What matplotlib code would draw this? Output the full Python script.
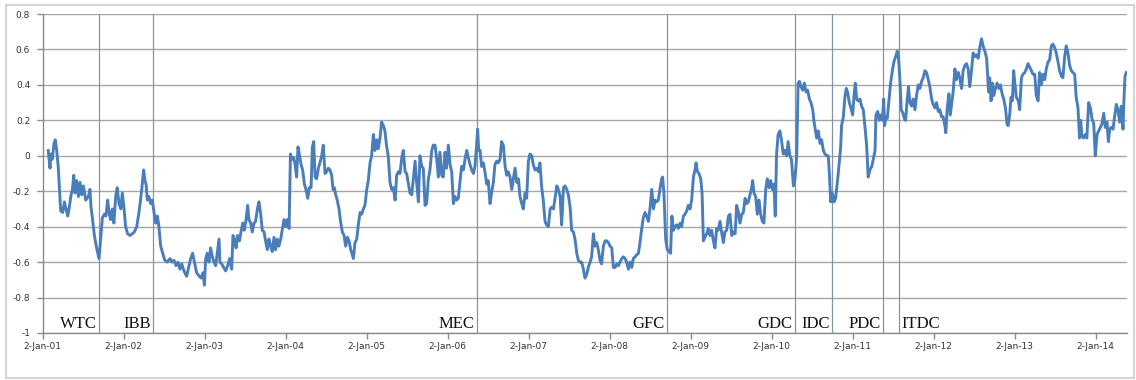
import numpy as np
import pandas as pd
import matplotlib
matplotlib.use("Agg")
import matplotlib.pyplot as plt
from matplotlib.patches import Rectangle

# rolling correlation, sampled as (days since 2-Jan-2001, value)
days = [
    25, 33, 37, 43, 51, 57, 63, 70, 75, 81, 90, 98, 105, 113, 120, 128, 134, 140, 146, 153,
    161, 168, 176, 183, 194, 206, 213, 218, 225, 233, 243, 254, 261, 269, 278, 285, 293, 299, 306, 314,
    321, 329, 336, 344, 352, 359, 367, 374, 383, 394, 404, 413, 424, 434, 442, 449, 455, 461, 466, 472,
    479, 487, 494, 502, 509, 517, 524, 532, 541, 551, 562, 574, 583, 592, 601, 610, 619, 627, 637, 649,
    658, 667, 676, 684, 694, 706, 714, 723, 729, 735, 742, 750, 757, 765, 772, 780, 787, 795, 799, 807,
    816, 825, 834, 843, 852, 858, 864, 872, 879, 887, 894, 902, 909, 917, 924, 930, 938, 945, 953, 960,
    968, 975, 983, 990, 998, 1005, 1013, 1020, 1028, 1035, 1043, 1050, 1058, 1065, 1073, 1080, 1088, 1096, 1103, 1111,
    1117, 1124, 1132, 1138, 1145, 1151, 1157, 1165, 1172, 1180, 1187, 1195, 1202, 1210, 1216, 1222, 1228, 1235, 1243, 1250,
    1258, 1265, 1273, 1280, 1288, 1295, 1303, 1309, 1315, 1321, 1328, 1336, 1344, 1351, 1359, 1366, 1374, 1381, 1389, 1401,
    1408, 1416, 1423, 1431, 1438, 1446, 1453, 1461, 1468, 1476, 1483, 1491, 1498, 1506, 1513, 1521, 1528, 1536, 1543, 1551,
    1558, 1566, 1573, 1581, 1589, 1596, 1604, 1611, 1619, 1626, 1634, 1641, 1649, 1656, 1664, 1671, 1679, 1686, 1694, 1701,
    1709, 1716, 1724, 1731, 1739, 1746, 1754, 1761, 1769, 1776, 1784, 1791, 1799, 1806, 1814, 1821, 1829, 1837, 1844, 1852,
    1859, 1867, 1874, 1882, 1889, 1897, 1904, 1912, 1919, 1927, 1934, 1942, 1949, 1957, 1961, 1966, 1972, 1979, 1987, 1994,
    2002, 2009, 2017, 2024, 2032, 2039, 2047, 2054, 2062, 2069, 2077, 2085, 2092, 2099, 2107, 2115, 2122, 2130, 2137, 2145,
    2152, 2160, 2167, 2175, 2182, 2190, 2197, 2205, 2212, 2220, 2227, 2235, 2242, 2250, 2257, 2265, 2272, 2280, 2288, 2295,
    2303, 2310, 2318, 2325, 2333, 2340, 2348, 2355, 2363, 2370, 2378, 2385, 2393, 2400, 2408, 2415, 2423, 2430, 2438, 2445,
    2453, 2460, 2468, 2475, 2483, 2490, 2498, 2505, 2513, 2520, 2528, 2536, 2543, 2551, 2558, 2566, 2573, 2581, 2588, 2596,
    2603, 2611, 2618, 2626, 2633, 2641, 2648, 2656, 2663, 2671, 2678, 2686, 2693, 2701, 2708, 2716, 2723, 2731, 2739, 2746,
    2754, 2761, 2769, 2776, 2784, 2791, 2795, 2801, 2809, 2816, 2825, 2831, 2837, 2844, 2851, 2859, 2866, 2874, 2881, 2889,
    2896, 2904, 2911, 2919, 2926, 2934, 2941, 2946, 2952, 2959, 2967, 2973, 2979, 2986, 2994, 3001, 3009, 3016, 3024, 3031,
    3039, 3046, 3054, 3061, 3069, 3076, 3084, 3092, 3099, 3107, 3114, 3122, 3129, 3137, 3144, 3152, 3159, 3167, 3174, 3182,
    3189, 3197, 3201, 3207, 3215, 3222, 3230, 3237, 3245, 3252, 3260, 3267, 3275, 3282, 3290, 3297, 3303, 3309, 3316, 3324,
    3331, 3339, 3346, 3354, 3361, 3369, 3376, 3385, 3392, 3400, 3406, 3412, 3419, 3427, 3434, 3442, 3449, 3457, 3464, 3472,
    3478, 3490, 3497, 3505, 3512, 3520, 3527, 3535, 3542, 3548, 3553, 3560, 3568, 3575, 3583, 3590, 3598, 3602, 3610, 3617,
    3623, 3629, 3637, 3644, 3652, 3659, 3664, 3670, 3677, 3685, 3692, 3700, 3707, 3715, 3722, 3730, 3738, 3745, 3753, 3757,
    3765, 3772, 3778, 3786, 3792, 3796, 3802, 3808, 3816, 3823, 3831, 3838, 3846, 3853, 3859, 3865, 3871, 3879, 3885, 3891,
    3898, 3904, 3910, 3918, 3925, 3933, 3940, 3948, 3955, 3963, 3970, 3978, 3985, 3993, 4000, 4008, 4015, 4023, 4030, 4038,
    4045, 4053, 4060, 4068, 4072, 4078, 4086, 4092, 4098, 4105, 4113, 4120, 4128, 4135, 4143, 4150, 4158, 4165, 4173, 4180,
    4188, 4195, 4203, 4210, 4218, 4225, 4233, 4240, 4248, 4256, 4260, 4265, 4270, 4276, 4282, 4288, 4296, 4303, 4311, 4318,
    4326, 4333, 4341, 4348, 4353, 4360, 4366, 4372, 4378, 4384, 4390, 4399, 4405, 4413, 4420, 4428, 4435, 4443, 4450, 4458,
    4465, 4473, 4480, 4488, 4495, 4503, 4510, 4518, 4525, 4533, 4540, 4548, 4555, 4563, 4570, 4578, 4585, 4593, 4600, 4608,
    4615, 4623, 4630, 4638, 4645, 4653, 4660, 4668, 4675, 4680, 4686, 4693, 4701, 4708, 4716, 4724, 4731, 4739, 4746, 4754,
    4761, 4769, 4776, 4784, 4791, 4799, 4805, 4811, 4818, 4826, 4833, 4841, 4848, 4856, 4863, 4871, 4875, 4880, 4886,
]
rho = [
    0.03, -0.07, 0.01, -0.02, 0.07, 0.09, 0.03, -0.06, -0.17, -0.31, -0.32, -0.26, -0.30, -0.34, -0.29, -0.22, -0.19, -0.11, -0.21, -0.14,
    -0.23, -0.15, -0.22, -0.17, -0.25, -0.23, -0.19, -0.29, -0.36, -0.45, -0.52, -0.58, -0.47, -0.35, -0.33, -0.34, -0.25, -0.32, -0.36, -0.30,
    -0.38, -0.23, -0.18, -0.27, -0.30, -0.21, -0.30, -0.40, -0.44, -0.45, -0.44, -0.43, -0.40, -0.32, -0.24, -0.16, -0.08, -0.14, -0.16, -0.25,
    -0.23, -0.27, -0.25, -0.32, -0.38, -0.34, -0.40, -0.51, -0.55, -0.59, -0.60, -0.58, -0.60, -0.59, -0.62, -0.60, -0.64, -0.61, -0.65, -0.68,
    -0.63, -0.58, -0.55, -0.60, -0.66, -0.68, -0.69, -0.66, -0.73, -0.58, -0.55, -0.60, -0.52, -0.57, -0.60, -0.62, -0.55, -0.47, -0.60, -0.61,
    -0.63, -0.65, -0.62, -0.58, -0.64, -0.45, -0.47, -0.52, -0.45, -0.48, -0.43, -0.38, -0.42, -0.36, -0.28, -0.36, -0.38, -0.43, -0.38, -0.37,
    -0.30, -0.26, -0.33, -0.42, -0.43, -0.48, -0.53, -0.47, -0.51, -0.54, -0.46, -0.53, -0.47, -0.51, -0.47, -0.42, -0.36, -0.40, -0.36, -0.41,
    0.01, -0.02, -0.01, -0.05, -0.12, 0.05, 0.01, -0.05, -0.08, -0.16, -0.19, -0.24, -0.18, -0.18, 0.05, 0.08, -0.12, -0.13, -0.07, -0.04,
    0.00, 0.06, -0.10, -0.09, -0.07, -0.08, -0.11, -0.19, -0.18, -0.22, -0.25, -0.30, -0.38, -0.43, -0.45, -0.51, -0.46, -0.48, -0.53, -0.58,
    -0.49, -0.47, -0.39, -0.32, -0.33, -0.30, -0.28, -0.19, -0.14, -0.04, 0.00, 0.12, 0.03, 0.09, 0.04, 0.10, 0.19, 0.17, 0.14, 0.05,
    0.00, -0.15, -0.19, -0.18, -0.25, -0.11, -0.09, -0.10, -0.01, 0.03, -0.09, -0.10, -0.16, -0.21, -0.22, -0.13, -0.03, -0.15, -0.26, 0.00,
    -0.06, -0.07, -0.28, -0.27, -0.13, -0.08, 0.03, 0.06, 0.06, -0.01, -0.12, 0.02, -0.11, -0.12, 0.02, -0.07, 0.06, -0.05, -0.09, -0.27,
    -0.23, -0.25, -0.24, -0.14, -0.06, -0.08, -0.02, 0.03, -0.01, -0.05, -0.08, -0.10, -0.06, 0.07, 0.15, 0.03, 0.03, -0.06, -0.04, -0.09,
    -0.16, -0.14, -0.27, -0.21, -0.15, -0.05, -0.03, -0.04, -0.02, 0.08, 0.06, -0.06, -0.11, -0.09, -0.12, -0.19, -0.13, -0.07, -0.15, -0.13,
    -0.23, -0.27, -0.30, -0.21, -0.24, -0.03, 0.01, 0.00, -0.05, -0.08, -0.07, -0.09, -0.04, -0.18, -0.25, -0.37, -0.39, -0.40, -0.30, -0.29,
    -0.30, -0.24, -0.17, -0.19, -0.23, -0.39, -0.18, -0.17, -0.19, -0.22, -0.29, -0.42, -0.43, -0.47, -0.55, -0.59, -0.60, -0.60, -0.64, -0.69,
    -0.67, -0.63, -0.60, -0.57, -0.44, -0.51, -0.49, -0.53, -0.59, -0.61, -0.51, -0.48, -0.48, -0.49, -0.51, -0.52, -0.63, -0.63, -0.61, -0.62,
    -0.60, -0.58, -0.57, -0.58, -0.60, -0.64, -0.60, -0.63, -0.58, -0.57, -0.56, -0.55, -0.49, -0.41, -0.35, -0.32, -0.34, -0.37, -0.29, -0.19,
    -0.30, -0.25, -0.26, -0.25, -0.18, -0.13, -0.12, -0.21, -0.47, -0.53, -0.54, -0.55, -0.34, -0.42, -0.40, -0.39, -0.41, -0.38, -0.40, -0.34,
    -0.33, -0.31, -0.28, -0.30, -0.25, -0.12, -0.08, -0.04, -0.09, -0.10, -0.13, -0.21, -0.48, -0.46, -0.44, -0.41, -0.45, -0.42, -0.48, -0.52,
    -0.41, -0.42, -0.37, -0.43, -0.49, -0.43, -0.42, -0.34, -0.33, -0.45, -0.43, -0.44, -0.28, -0.32, -0.38, -0.33, -0.32, -0.24, -0.27, -0.26,
    -0.22, -0.18, -0.14, -0.21, -0.23, -0.33, -0.25, -0.33, -0.37, -0.38, -0.19, -0.13, -0.18, -0.14, -0.19, -0.16, -0.34, 0.01, 0.12, 0.14,
    0.09, 0.01, 0.03, 0.00, 0.08, 0.00, -0.02, -0.17, -0.13, 0.00, 0.41, 0.42, 0.39, 0.37, 0.41, 0.36, 0.37, 0.32, 0.30, 0.26,
    0.19, 0.10, 0.14, 0.07, 0.09, 0.03, 0.01, 0.00, 0.00, -0.12, -0.26, -0.21, -0.26, -0.24, -0.15, -0.06, 0.05, 0.17, 0.22, 0.33,
    0.38, 0.36, 0.30, 0.27, 0.23, 0.35, 0.41, 0.32, 0.31, 0.32, 0.28, 0.26, 0.17, 0.06, -0.12, -0.08, -0.06, -0.02, 0.03, 0.23,
    0.25, 0.20, 0.23, 0.20, 0.32, 0.17, 0.22, 0.21, 0.32, 0.41, 0.48, 0.53, 0.56, 0.59, 0.55, 0.43, 0.26, 0.24, 0.21, 0.20,
    0.32, 0.39, 0.30, 0.28, 0.32, 0.26, 0.34, 0.40, 0.38, 0.42, 0.44, 0.48, 0.47, 0.43, 0.39, 0.32, 0.29, 0.27, 0.30, 0.25,
    0.26, 0.22, 0.22, 0.17, 0.13, 0.26, 0.35, 0.23, 0.29, 0.36, 0.49, 0.43, 0.47, 0.44, 0.38, 0.48, 0.51, 0.52, 0.49, 0.39,
    0.48, 0.58, 0.56, 0.57, 0.55, 0.61, 0.66, 0.62, 0.59, 0.55, 0.47, 0.36, 0.44, 0.31, 0.41, 0.34, 0.38, 0.41, 0.38, 0.40,
    0.35, 0.32, 0.27, 0.18, 0.17, 0.23, 0.33, 0.31, 0.48, 0.40, 0.33, 0.31, 0.26, 0.44, 0.46, 0.47, 0.49, 0.52, 0.50, 0.48,
    0.46, 0.46, 0.34, 0.31, 0.47, 0.40, 0.46, 0.43, 0.49, 0.53, 0.54, 0.62, 0.63, 0.61, 0.58, 0.53, 0.48, 0.45, 0.44, 0.56,
    0.62, 0.58, 0.51, 0.48, 0.47, 0.46, 0.33, 0.27, 0.10, 0.20, 0.11, 0.10, 0.12, 0.10, 0.30, 0.27, 0.21, 0.18, 0.00, 0.12,
    0.14, 0.16, 0.18, 0.24, 0.16, 0.19, 0.08, 0.15, 0.16, 0.15, 0.22, 0.29, 0.26, 0.19, 0.28, 0.15, 0.31, 0.45, 0.47,
]

# crisis events marked with vertical lines
event_names = ["WTC", "IBB", "MEC", "GFC", "GDC", "IDC", "PDC", "ITDC"]
event_dates = ["2001-09-11", "2002-05-15", "2006-05-13", "2008-09-15",
               "2010-04-16", "2010-10-01", "2011-05-19", "2011-07-30"]

start = pd.Timestamp("2001-01-02")
dates = start + pd.to_timedelta(days, unit="D")
tick_years = list(range(2001, 2015))

W, H = 1136, 380
fig = plt.figure(figsize=(W / 100, H / 100), dpi=100)
fig.patch.set_facecolor("white")

# light frame around the whole chart
fig.add_artist(Rectangle((6 / W, 2 / H), 1128 / W, 373 / H, transform=fig.transFigure,
                         fill=False, edgecolor="#d4d4d4", linewidth=1.5))

ax = fig.add_axes([42.7 / W, 1 - 333 / H, (1127 - 42.7) / W, (333 - 14) / H])

ax.plot(dates, rho, color="#4a7ebb", linewidth=2.1, solid_joinstyle="round", zorder=3)

for name, d in zip(event_names, event_dates):
    d = pd.Timestamp(d)
    ax.axvline(d, color="#8196a9", linewidth=0.9, zorder=2)
    if name == "ITDC":
        ax.annotate(name, (d, -1), xytext=(1.5, 0.5), textcoords="offset points",
                    ha="left", va="bottom", fontsize=12, family="Liberation Serif", color="#111111")
    else:
        ax.annotate(name, (d, -1), xytext=(-1.5, 0.5), textcoords="offset points",
                    ha="right", va="bottom", fontsize=12, family="Liberation Serif", color="#111111")

ax.set_ylim(-1, 0.8)
ax.set_xlim(start, start + pd.Timedelta(days=4889))
ax.set_yticks(np.arange(-1, 0.81, 0.2))
ax.set_yticklabels(["-1", "-0.8", "-0.6", "-0.4", "-0.2", "0", "0.2", "0.4", "0.6", "0.8"])

ticks = [pd.Timestamp(y, 1, 2) for y in tick_years]
ax.set_xticks(ticks)
ax.set_xticklabels([f"{t.day}-{t:%b}-{t:%y}" for t in ticks])

ax.grid(axis="y", color="#a6a6a6", linewidth=1.0, zorder=0)
ax.set_axisbelow(True)
for side in ["top", "right"]:
    ax.spines[side].set_visible(False)
for side in ["left", "bottom"]:
    ax.spines[side].set_color("#8c8c8c")
    ax.spines[side].set_linewidth(1.0)

ax.tick_params(axis="both", colors="#8c8c8c", length=4, width=1.0, labelsize=6.5, labelcolor="#333333")
ax.tick_params(axis="x", pad=2.5)
ax.tick_params(axis="y", pad=5)

fig.savefig("out.png", dpi=100, facecolor="white")
